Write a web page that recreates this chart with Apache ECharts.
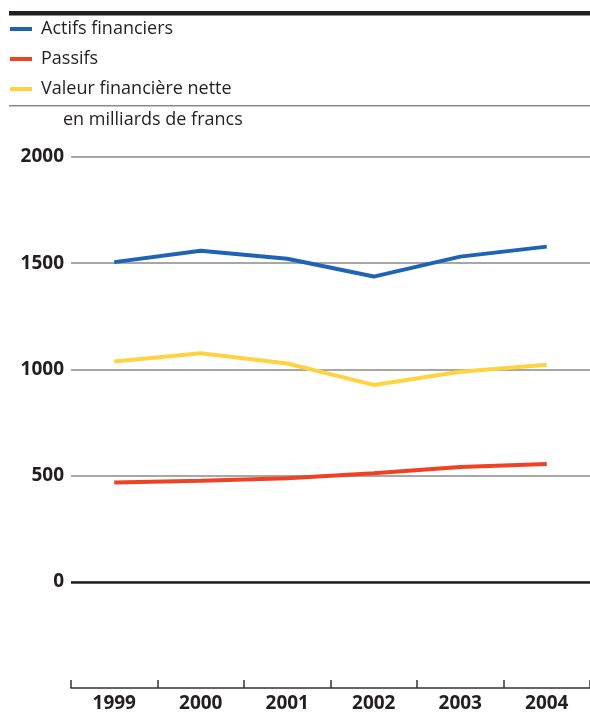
<!DOCTYPE html>
<html>
<head>
<meta charset="utf-8">
<script src="https://cdn.jsdelivr.net/npm/echarts@6/dist/echarts.min.js"></script>
<style>
html,body{margin:0;padding:0;background:#fff;}
#main{width:590px;height:713px;}
</style>
</head>
<body>
<div id="main"></div>
<script>
var years = ['1999','2000','2001','2002','2003','2004'];
var actifs = [1505, 1559, 1521, 1437, 1531, 1578];
var passifs = [467, 476, 487, 511, 541, 555];
var valeurNette = [1037, 1076, 1028, 927, 989, 1022];
var seriesNames = ['Actifs financiers', 'Passifs', 'Valeur financière nette'];
var unitLabel = 'en milliards de francs';

var init = function(){
	var dom = document.getElementById('main');
	var myChart = echarts.init(dom, null, {renderer: 'canvas'});
	var txt = '#231f20';
	var font = '"Open Sans", "Liberation Sans", sans-serif';
	var option = {
		animation: false,
		color: ['#1f64b4', '#ef4123', '#ffd340'],
		textStyle: {fontFamily: font},
		legend: {
			orient: 'vertical',
			left: 10,
			top: 19,
			padding: 0,
			icon: 'rect',
			itemWidth: 22,
			itemHeight: 4,
			itemGap: 10,
			selectedMode: false,
			textStyle: {fontSize: 18, color: txt, lineHeight: 20, padding: [0,0,0,4], fontFamily: font},
			data: seriesNames
		},
		graphic: [
			{type: 'rect', left: 9, top: 11, shape: {width: 590, height: 4.5}, style: {fill: txt}, silent: true},
			{type: 'rect', left: 9, top: 105, shape: {width: 590, height: 1.5}, style: {fill: '#8a8a8a'}, silent: true},
			{type: 'text', left: 63, top: 111, style: {text: unitLabel, fontSize: 18, fill: txt, fontFamily: font}, silent: true}
		],
		grid: {left: 71, top: 157, width: 524, height: 534, containLabel: false},
		xAxis: {
			type: 'category',
			data: years,
			boundaryGap: true,
			axisLine: {show: true, onZero: false, lineStyle: {color: '#333', width: 1.5}},
			axisTick: {show: true, inside: true, interval: 0, alignWithLabel: false, length: 8, lineStyle: {color: '#333', width: 1.5}},
			axisLabel: {margin: 6, fontSize: 19, fontWeight: 'bold', color: txt, fontFamily: font},
			splitLine: {show: false}
		},
		yAxis: {
			type: 'value',
			min: -500,
			max: 2000,
			interval: 500,
			axisLine: {show: false},
			axisTick: {show: false},
			axisLabel: {
				margin: 7,
				fontSize: 19,
				fontWeight: 'bold',
				color: txt,
				fontFamily: font,
				formatter: function(v){ return v < 0 ? '' : String(v); }
			},
			splitLine: {lineStyle: {color: ['rgba(0,0,0,0)', '#8a8a8a', '#8a8a8a', '#8a8a8a', '#8a8a8a', '#8a8a8a'], width: 1.5}}
		},
		series: [
			{
				name: seriesNames[0], type: 'line', data: actifs,
				symbol: 'none', lineStyle: {width: 4}, z: 3
			},
			{
				name: seriesNames[1], type: 'line', data: passifs,
				symbol: 'none', lineStyle: {width: 4}, z: 3,
				markLine: {
					silent: true, symbol: 'none', label: {show: false},
					lineStyle: {color: txt, width: 2.5, type: 'solid'},
					data: [{yAxis: 0}]
				}
			},
			{
				name: seriesNames[2], type: 'line', data: valeurNette,
				symbol: 'none', lineStyle: {width: 4}, z: 3
			}
		]
	};
	myChart.setOption(option);
}

init();
</script>
</body>
</html>
